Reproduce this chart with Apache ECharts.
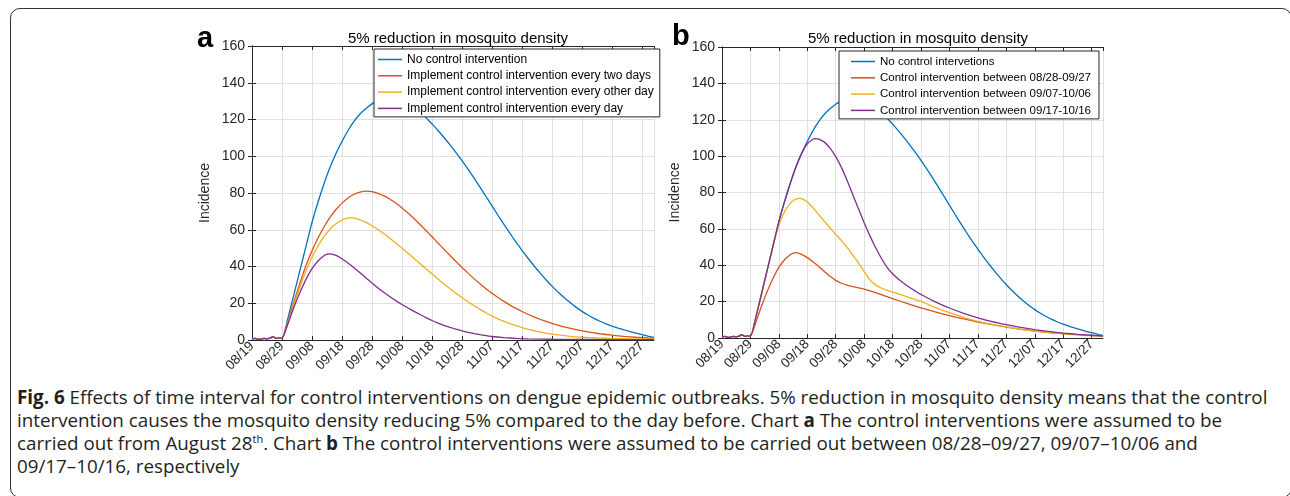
<!DOCTYPE html>
<html>
<head>
<meta charset="utf-8">
<script src="https://cdn.jsdelivr.net/npm/echarts@6/dist/echarts.min.js"></script>
<style>
  html, body { margin: 0; padding: 0; background: #fff; width: 1290px; height: 496px; overflow: hidden; }
  #frame { position: absolute; left: 10px; top: 8px; width: 1282px; height: 490px; border: 1.5px solid #333; border-radius: 10px; box-sizing: border-box; }
  #main { position: absolute; left: 0; top: 0; width: 1290px; height: 384px; }
  #cap { position: absolute; left: 17px; top: 386px; font-family: 'Open Sans', sans-serif; font-size: 18.8px; line-height: 23px; color: #231f20; white-space: nowrap; }
  #cap sup { font-size: 11px; line-height: 0; }
</style>
</head>
<body>
<div id="frame"></div>
<div id="main"></div>
<div id="cap">
<b>Fig. 6</b> Effects of time interval for control interventions on dengue epidemic outbreaks. 5% reduction in mosquito density means that the control<br>
intervention causes the mosquito density reducing 5% compared to the day before. Chart <b>a</b> The control interventions were assumed to be<br>
carried out from August 28<sup>th</sup>. Chart <b>b</b> The control interventions were assumed to be carried out between 08/28–09/27, 09/07–10/06 and<br>
09/17–10/16, respectively
</div>
<script>
// x axis: days counted from 08/19, one label every 10 days
var tickLabels = ['08/19', '08/29', '09/08', '09/18', '09/28', '10/08', '10/18',
  '10/28', '11/07', '11/17', '11/27', '12/07', '12/17', '12/27'];

// first days, before the outbreak (all curves share them)
var startDays = [[0, 0.6], [1, 0.9], [2, 0.3], [3, 0.5], [4, 0.9], [5, 0.6], [6, 1.0],
  [7, 1.8], [8, 0.9], [9, 1.2], [10, 1.0]];

// no control (same curve in a and b)
var noControl = [[12, 12], [14, 25], [16, 38], [18, 51], [20, 64], [22, 75], [24, 85], [26, 94],
  [28, 101.5], [30, 108], [32, 114], [34, 119], [36, 123], [38, 126], [40, 128.5], [42, 130.5],
  [44, 131.7], [46, 132.2], [48, 132], [50, 131], [52, 129.6], [54, 127.5], [56, 124.5], [58, 121],
  [60, 117.6], [62, 114], [64, 110.2], [66, 106.2], [68, 102], [70, 97.6], [72, 93], [74, 88.2],
  [76, 83.2], [78, 78.1], [80, 73], [82, 67.9], [84, 62.9], [86, 58], [88, 53.3], [90, 48.8],
  [92, 44.5], [94, 40.4], [96, 36.5], [98, 32.8], [100, 29.3], [102, 26.1], [104, 23.1], [106, 20.4],
  [108, 17.9], [110, 15.6], [112, 13.6], [114, 11.8], [116, 10.2], [118, 8.8], [120, 7.6], [122, 6.5],
  [124, 5.5], [126, 4.6], [128, 3.7], [130, 2.9], [132, 2.1], [134, 1.4]];

// chart a
var everyTwoDays = [[12, 10], [14, 21], [16, 31], [18, 40.5], [20, 48.5], [22, 55.5], [24, 61.5],
  [26, 66.7], [28, 71], [30, 74.5], [32, 77.3], [34, 79.3], [36, 80.5], [38, 81], [40, 80.7],
  [42, 79.8], [44, 78.4], [46, 76.6], [48, 74.4], [50, 71.9], [52, 69.1], [54, 66.1], [56, 62.9],
  [58, 59.6], [60, 56.2], [62, 52.8], [64, 49.4], [66, 46], [68, 42.7], [70, 39.5], [72, 36.4],
  [74, 33.4], [76, 30.6], [78, 27.9], [80, 25.4], [82, 23.1], [84, 21], [86, 19], [88, 17.2],
  [90, 15.5], [92, 14], [94, 12.6], [96, 11.3], [98, 10.1], [100, 9], [104, 7.1], [108, 5.6],
  [112, 4.4], [116, 3.4], [120, 2.6], [124, 2], [128, 1.5], [132, 1.1], [134, 1.0]];
var everyOtherDay = [[12, 9.5], [14, 19.5], [16, 29], [18, 37.5], [20, 45], [22, 51.2], [24, 56.3],
  [26, 60.3], [28, 63.3], [30, 65.3], [32, 66.4], [33, 66.5], [34, 66.3], [36, 65.4], [38, 64],
  [40, 62.2], [42, 60.1], [44, 57.8], [46, 55.3], [48, 52.7], [50, 50], [52, 47.2], [54, 44.4],
  [56, 41.6], [58, 38.8], [60, 36], [62, 33.2], [64, 30.5], [66, 27.9], [68, 25.4], [70, 23],
  [72, 20.8], [74, 18.7], [76, 16.7], [78, 14.8], [80, 13], [82, 11.5], [84, 10.1], [86, 8.9],
  [88, 7.8], [90, 6.8], [94, 5.1], [98, 3.8], [102, 2.8], [106, 2], [110, 1.5], [115, 1.1],
  [120, 0.8], [127, 0.6], [134, 0.4]];
var everyDay = [[12, 9], [14, 18], [16, 26], [18, 33], [20, 38.8], [22, 43], [24, 45.8], [25, 46.7],
  [26, 46.9], [28, 46], [30, 44.2], [32, 41.9], [34, 39.3], [36, 36.6], [38, 33.8], [40, 31],
  [42, 28.3], [44, 25.8], [46, 23.5], [48, 21.3], [50, 19.3], [52, 17.4], [54, 15.6], [56, 13.9],
  [58, 12.2], [60, 10.6], [62, 9.2], [64, 8], [66, 6.9], [68, 5.9], [70, 5.0], [72, 4.2], [74, 3.5],
  [76, 2.9], [78, 2.4], [80, 1.9], [84, 1.3], [88, 0.9], [92, 0.6], [100, 0.4], [110, 0.3], [134, 0.2]];

// chart b
var between0828 = [[12, 9], [14, 18], [16, 26], [18, 33], [20, 38.8], [22, 43], [24, 45.8], [25, 46.7],
  [26, 46.9], [28, 46], [30, 44.2], [32, 41.9], [34, 39.3], [36, 36.6], [38, 33.9], [40, 31.7],
  [42, 30.1], [44, 29.1], [46, 28.3], [48, 27.6], [50, 26.9], [55, 24.4], [60, 21.7], [65, 19],
  [70, 16.5], [75, 14.3], [80, 12.3], [85, 10.5], [90, 8.8], [95, 7.3], [100, 6], [105, 4.8],
  [110, 3.8], [115, 3], [120, 2.4], [125, 1.8], [130, 1.3], [134, 1.0]];
var between0907 = [[12, 12], [14, 25], [16, 38], [18, 51], [20, 62], [22, 69.5], [24, 74], [26, 76.4],
  [27, 76.8], [28, 76.6], [30, 74.8], [32, 71.6], [34, 67.9], [36, 64.2], [38, 60.6], [40, 57],
  [42, 53.5], [44, 49.8], [46, 45.5], [48, 41.3], [50, 36.5], [52, 32], [54, 29.2], [56, 27.5],
  [58, 26.3], [60, 25.3], [65, 22.7], [70, 20.1], [75, 16.8], [80, 13.9], [85, 11.3], [90, 9.2],
  [95, 7.5], [100, 6.1], [105, 4.9], [110, 3.8], [115, 3], [120, 2.3], [125, 1.7], [130, 1.3], [134, 1.0]];
var between0917 = [[12, 12], [14, 25], [16, 38], [18, 51], [20, 64], [22, 75], [24, 85], [26, 94],
  [28, 101.5], [30, 106.8], [32, 109.3], [33, 109.6], [34, 109.4], [36, 107.7], [38, 104.4],
  [40, 99.7], [42, 93.8], [44, 86.6], [46, 78.8], [48, 71], [50, 63.4], [52, 56.3], [54, 49.8],
  [56, 44], [58, 39], [60, 35.3], [62, 32.4], [64, 30], [66, 27.8], [68, 25.8], [70, 23.9],
  [75, 19.9], [80, 16.5], [85, 13.6], [90, 11.1], [95, 9], [100, 7.3], [105, 5.8], [110, 4.6],
  [115, 3.6], [120, 2.7], [125, 2], [130, 1.5], [134, 1.1]];

var namesA = ['No control intervention', 'Implement control intervention every two days',
  'Implement control intervention every other day', 'Implement control intervention every day'];
var namesB = ['No control intervetions', 'Control intervention between 08/28-09/27',
  'Control intervention between 09/07-10/06', 'Control intervention between 09/17-10/16'];
var colors = ['#0072BD', '#D95319', '#EDB120', '#7E2F8E'];

var font = 'Liberation Sans, Arial, Helvetica, sans-serif';
var axisColor = '#262626';

var myChart = echarts.init(document.getElementById('main'));

function xAxes(grid, top) {
  return {
    type: 'value', gridIndex: grid, position: top ? 'top' : 'bottom',
    min: 0, max: 134, interval: 10,
    axisLine: {onZero: false, lineStyle: {color: axisColor, width: 1}},
    axisTick: {show: true, inside: true, length: 4, lineStyle: {color: axisColor}},
    splitLine: {show: !top, lineStyle: {color: '#e0e0e0', width: 1}},
    axisLabel: top ? {show: false} : {
      show: true, rotate: 45, margin: 4, fontSize: 13.5, fontFamily: font, color: axisColor,
      showMaxLabel: false,
      formatter: function (v) { return tickLabels[v / 10] || ''; }
    }
  };
}

function yAxes(grid, right) {
  return {
    type: 'value', gridIndex: grid, position: right ? 'right' : 'left',
    min: 0, max: 160, interval: 20,
    name: right ? '' : 'Incidence', nameLocation: 'middle', nameGap: 40,
    nameTextStyle: {fontSize: 14, fontFamily: font, color: axisColor},
    axisLine: {show: true, lineStyle: {color: axisColor, width: 1}},
    axisTick: {show: true, inside: true, length: 4, lineStyle: {color: axisColor}},
    splitLine: {show: !right, lineStyle: {color: '#e0e0e0', width: 1}},
    axisLabel: right ? {show: false} : {
      show: true, margin: 7, fontSize: 14, fontFamily: font, color: axisColor
    }
  };
}

function makeSeries(name, data, idx, grid) {
  return {
    name: name, type: 'line',
    xAxisIndex: grid * 2, yAxisIndex: grid * 2,
    data: startDays.concat(data),
    symbol: 'none', smooth: 0.2,
    lineStyle: {width: 1.3, color: colors[idx]},
    itemStyle: {color: colors[idx]}
  };
}

function makeLegend(names, left, top, padding, size) {
  return {
    data: names, orient: 'vertical', left: left, top: top,
    icon: 'rect', itemWidth: 24, itemHeight: 1.5, itemGap: 3.3,
    padding: padding, backgroundColor: '#fff', borderColor: axisColor, borderWidth: 1,
    selectedMode: false,
    textStyle: {fontSize: size, fontFamily: font, color: '#000', lineHeight: 13}
  };
}

var option = {
  animation: false,
  backgroundColor: 'transparent',
  title: [
    {text: '5% reduction in mosquito density', left: 453, top: 26, textAlign: 'center',
      textStyle: {fontSize: 15, fontWeight: 'normal', fontFamily: font, color: '#000'}},
    {text: '5% reduction in mosquito density', left: 913, top: 26, textAlign: 'center',
      textStyle: {fontSize: 15, fontWeight: 'normal', fontFamily: font, color: '#000'}}
  ],
  graphic: [
    {type: 'text', left: 197, top: 24, style: {text: 'a', font: 'bold 29px ' + font, fill: '#000'}},
    {type: 'text', left: 672, top: 22, style: {text: 'b', font: 'bold 29px ' + font, fill: '#000'}}
  ],
  legend: [
    makeLegend(namesA, 374, 49, [4, 6, 2, 4], 12),
    makeLegend(namesB, 839, 51, [4, 8, 2, 12], 11.5)
  ],
  grid: [
    {left: 252, top: 46, width: 402, height: 294, outerBoundsMode: 'none'},
    {left: 722, top: 47, width: 381, height: 291, outerBoundsMode: 'none'}
  ],
  xAxis: [xAxes(0, false), xAxes(0, true), xAxes(1, false), xAxes(1, true)],
  yAxis: [yAxes(0, false), yAxes(0, true), yAxes(1, false), yAxes(1, true)],
  series: [
    makeSeries(namesA[0], noControl, 0, 0),
    makeSeries(namesA[1], everyTwoDays, 1, 0),
    makeSeries(namesA[2], everyOtherDay, 2, 0),
    makeSeries(namesA[3], everyDay, 3, 0),
    makeSeries(namesB[0], noControl, 0, 1),
    makeSeries(namesB[1], between0828, 1, 1),
    makeSeries(namesB[2], between0907, 2, 1),
    makeSeries(namesB[3], between0917, 3, 1)
  ]
};

myChart.setOption(option);
</script>
</body>
</html>
